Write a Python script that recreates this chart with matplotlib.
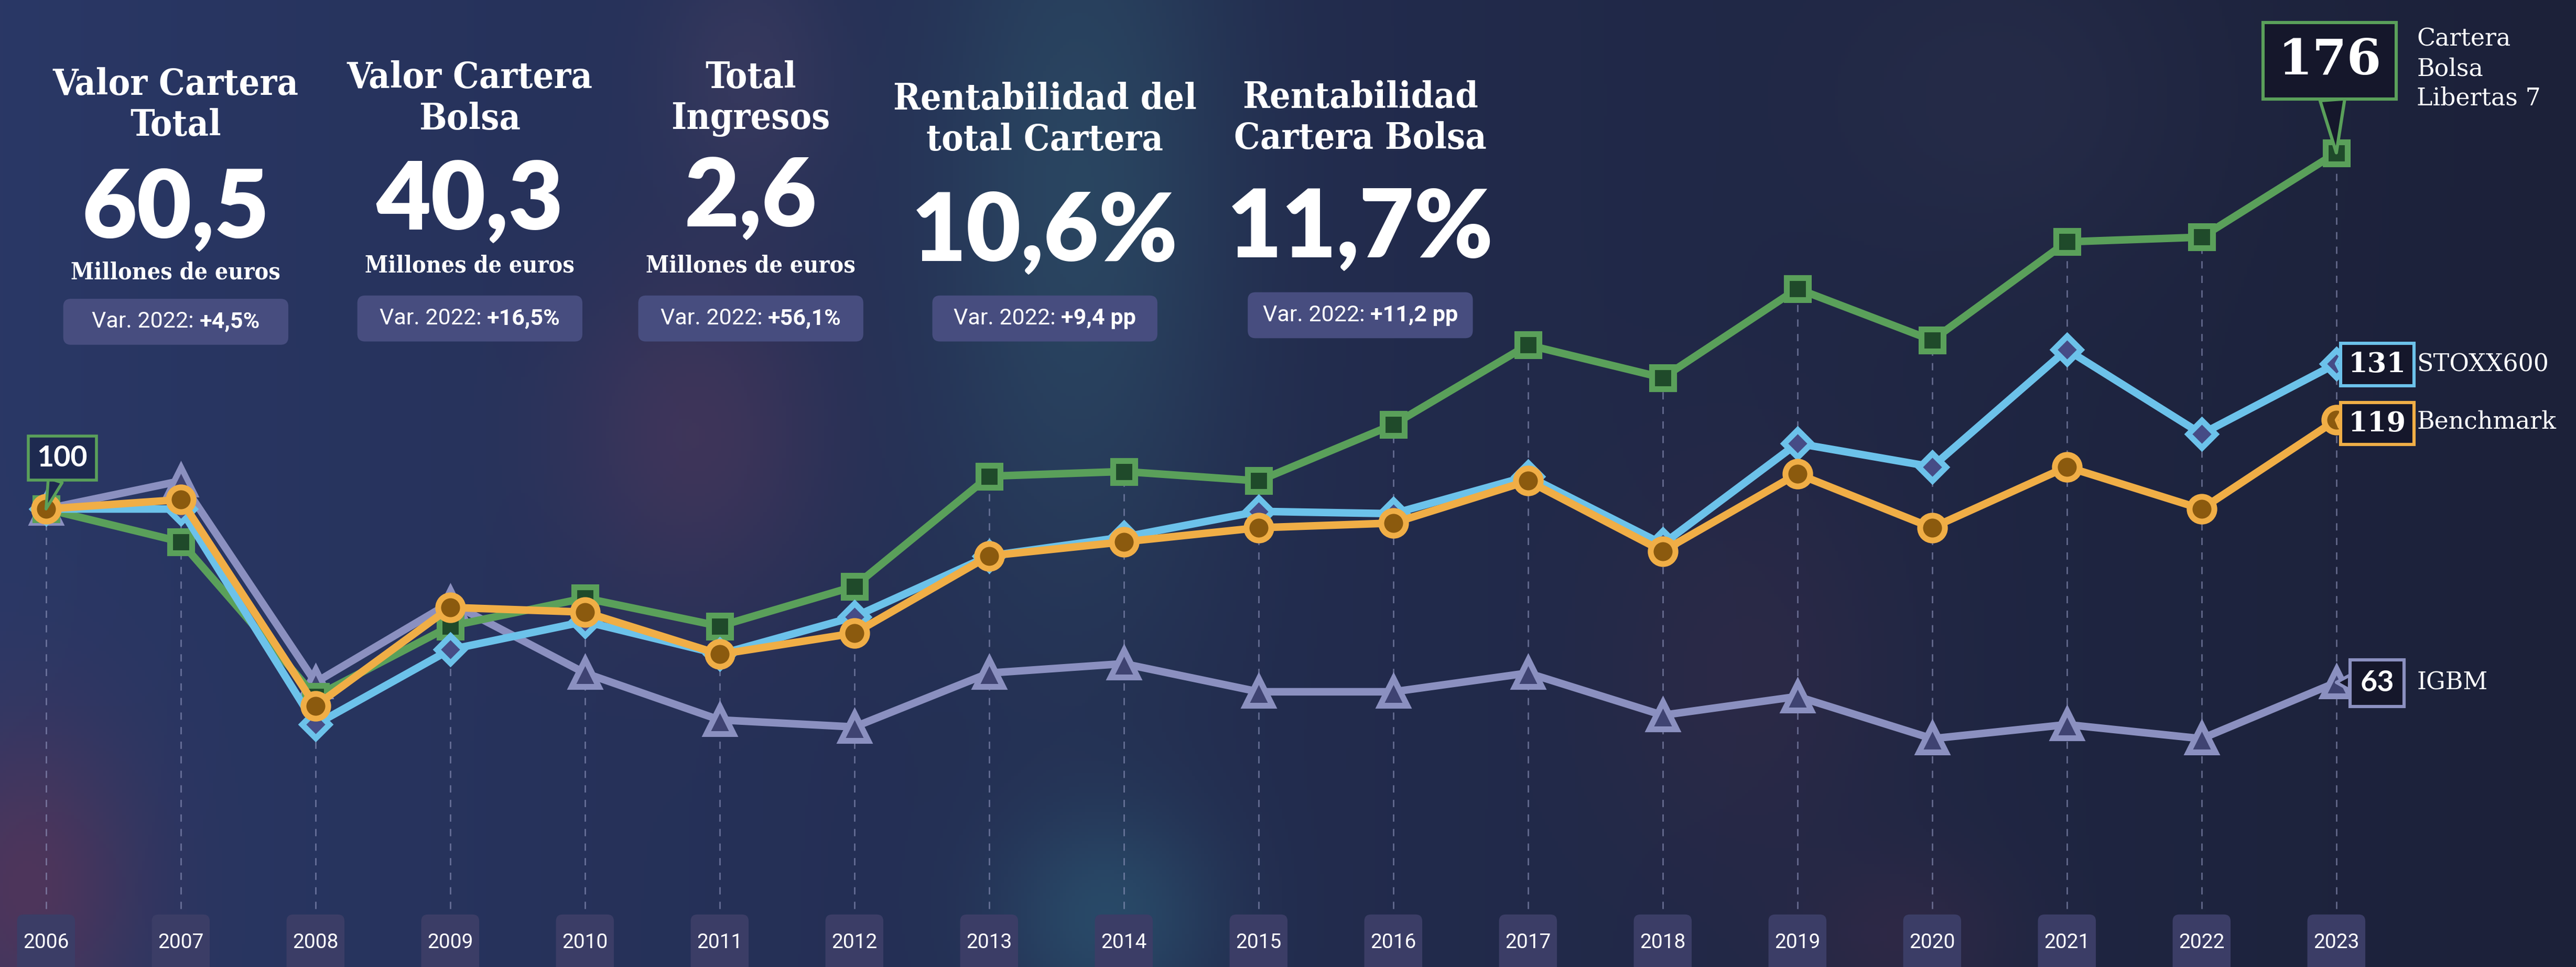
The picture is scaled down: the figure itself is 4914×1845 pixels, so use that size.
import numpy as np
import matplotlib.pyplot as plt
from matplotlib.patches import FancyBboxPatch
from matplotlib.colors import to_rgb
from matplotlib.transforms import blended_transform_factory

# datos (índice base 100 en 2006)
years = list(range(2006, 2024))
cartera = [100, 93, 60, 75, 81, 75, 83.5, 107, 108, 106, 118, 135, 128, 147, 136, 157, 158, 176]
stoxx = [100, 100, 54, 70, 76, 69, 77, 90, 94, 99.5, 99, 107, 92.5, 114, 109, 134, 116, 131]
benchmark = [100, 102, 58, 79, 78, 69, 73.5, 90, 93, 96, 97, 106, 91, 107.5, 96, 109, 100, 119]
igbm = [100, 106, 63, 80, 65, 55, 53.5, 65, 67, 61, 61, 65, 56, 60, 51, 54, 51, 63]

titles = ['Valor Cartera\nTotal', 'Valor Cartera\nBolsa', 'Total\nIngresos',
          'Rentabilidad del\ntotal Cartera', 'Rentabilidad\nCartera Bolsa']
values = ['60,5', '40,3', '2,6', '10,6%', '11,7%']
units = ['Millones de euros', 'Millones de euros', 'Millones de euros', '', '']
var_labels = ['+4,5%', '+16,5%', '+56,1%', '+9,4 pp', '+11,2 pp']

series_names = ['Cartera\nBolsa\nLibertas 7', 'STOXX600', 'Benchmark', 'IGBM']

# colores
GREEN, BLUE, ORANGE, PURPLE = '#5aa05a', '#6cc2ea', '#f0ae46', '#8b90c0'
DARKBOX = '#15172b'

# layout en px de referencia (1568x589)
W, H = 1568, 589
def fx(x):
    return x / W
def fy(y):
    return 1 - y / H

fig = plt.figure(figsize=(24.57, 9.225), dpi=200)

# fondo degradado con manchas difusas
bg = fig.add_axes([0, 0, 1, 1], zorder=-1)
gh, gw = 300, 800
xx, yy = np.meshgrid(np.linspace(0, 1, gw), np.linspace(0, 1, gh))
left, right = np.array(to_rgb('#2a3866')), np.array(to_rgb('#1c2139'))
t = (xx ** 0.9)[..., None]
img = left * (1 - t) + right * t
def blob(img, cx, cy, sx, sy, col, s):
    w = s * np.exp(-((xx - cx) ** 2 / (2 * sx ** 2) + (yy - cy) ** 2 / (2 * sy ** 2)))
    w = w[..., None]
    return img * (1 - w) + np.array(to_rgb(col)) * w
img = blob(img, 0.42, 0.2, 0.04, 0.3, '#305d70', 0.5)
img = blob(img, 0.43, 0.95, 0.03, 0.08, '#2f6a82', 0.45)
img = blob(img, 0.29, 0.08, 0.025, 0.1, '#4e4466', 0.4)
img = blob(img, 0.27, 0.45, 0.035, 0.12, '#5c3a5c', 0.45)
img = blob(img, 0.01, 0.92, 0.03, 0.12, '#5a3558', 0.75)
img = blob(img, 0.68, 0.7, 0.04, 0.15, '#3b2c48', 0.4)
img = blob(img, 0.74, 0.97, 0.03, 0.06, '#3b2b48', 0.5)
img = blob(img, 0.78, 0.1, 0.05, 0.12, '#2e3350', 0.4)
bg.imshow(img, aspect='auto', extent=(0, 1, 0, 1))
bg.axis('off')

ax = fig.add_axes([0, 0, 1, 1])
ax.patch.set_alpha(0)
ax.set_xlim(2006 - 87.8 / 257, 2006 + (4914 - 87.8) / 257)
ax.set_ylim(2.28, 208.6)
ax.axis('off')

# líneas verticales discontinuas
tops = [max(v) for v in zip(cartera, stoxx, benchmark, igbm)]
ax.vlines(years, 2.28, tops, colors='#9aa0c8', linestyles=(0, (5, 5)), linewidth=1.0, alpha=0.55, zorder=1)

specs = [
    (igbm, PURPLE, '^', '#3f4372', 19, 2),
    (cartera, GREEN, 's', '#1f4a2a', 15, 3),
    (stoxx, BLUE, 'D', '#464c86', 13, 4),
    (benchmark, ORANGE, 'o', '#8b5a0e', 17, 5),
]
for vals, c, m, fc, ms, z in specs:
    ax.plot(years, vals, color=c, lw=5.2, marker=m, ms=ms, mfc=fc, mec=c, mew=4, zorder=z)

# etiquetas de años
tr = blended_transform_factory(ax.transData, ax.transAxes)
for yr in years:
    ax.add_patch(FancyBboxPatch((yr - 0.215, -0.02), 0.43, 0.02 + fy(557),
                                boxstyle='round,pad=0,rounding_size=0.05', mutation_aspect=257 / 1845,
                                transform=tr, fc='#3b3d66', ec='none', zorder=6))
    ax.text(yr, fy(574), str(yr), transform=tr, ha='center', va='center', color='white',
            fontsize=14, family='Roboto', zorder=7)

# bloques de indicadores
col_x = [107, 286, 457, 636, 828]
title_y = [64, 60, 60, 73, 72]
value_y = [128, 123, 121, 142, 140]
unit_y = [166, 162, 162, 0, 0]
var_y = [196, 194, 194, 194, 192]

renderer = fig.canvas.get_renderer()
for i in range(5):
    cx = fx(col_x[i])
    ax.text(cx, fy(title_y[i]), titles[i], transform=ax.transAxes, ha='center', va='center',
            color='white', fontsize=25, fontweight='bold', family='DejaVu Serif',
            fontstretch='condensed', linespacing=1.22)
    ax.text(cx, fy(value_y[i]), values[i], transform=ax.transAxes, ha='center', va='center',
            color='white', fontsize=65, fontweight='heavy', family='Lato')
    if units[i]:
        ax.text(cx, fy(unit_y[i]), units[i], transform=ax.transAxes, ha='center', va='center',
                color='white', fontsize=16, fontweight='bold', family='DejaVu Serif',
                fontstretch='condensed')
    bw, bh = fx(137), 28 / H
    ax.add_patch(FancyBboxPatch((cx - bw / 2, fy(var_y[i]) - bh / 2), bw, bh,
                                boxstyle='round,pad=0,rounding_size=0.003', mutation_aspect=W / H,
                                transform=ax.transAxes, fc='#474d7f', ec='none', zorder=6))
    t1 = ax.text(0, fy(var_y[i]), 'Var. 2022: ', transform=ax.transAxes, ha='left', va='center',
                 color='white', fontsize=15.5, family='Roboto', zorder=7)
    t2 = ax.text(0, fy(var_y[i]), var_labels[i], transform=ax.transAxes, ha='left', va='center',
                 color='white', fontsize=15.5, fontweight='bold', family='Roboto', zorder=7)
    w1 = t1.get_window_extent(renderer).width / fig.bbox.width
    w2 = t2.get_window_extent(renderer).width / fig.bbox.width
    start = cx - (w1 + w2) / 2
    t1.set_x(start)
    t2.set_x(start + w1)

# callouts finales
def callout(text, val, yr, pos, ec, size, family, pad):
    ax.annotate(text, xy=(yr, val), xytext=(fx(pos[0]), fy(pos[1])), textcoords='axes fraction',
                ha='center', va='center', color='white', fontsize=size, fontweight='bold', family=family,
                bbox=dict(boxstyle='square,pad=%s' % pad, fc=DARKBOX, ec=ec, lw=2.2),
                arrowprops=dict(arrowstyle='wedge,tail_width=0.5', fc=DARKBOX, ec=ec, lw=2.2,
                                shrinkA=0, shrinkB=0),
                zorder=10)

callout(str(cartera[-1]), cartera[-1], years[-1], (1418, 37), GREEN, 34, 'DejaVu Serif', 0.3)
callout(str(stoxx[-1]), stoxx[-1], years[-1], (1447, 222), BLUE, 19, 'DejaVu Serif', 0.28)
callout(str(benchmark[-1]), benchmark[-1], years[-1], (1447, 258), ORANGE, 19, 'DejaVu Serif', 0.28)
callout(str(igbm[-1]), igbm[-1], years[-1], (1447, 416), PURPLE, 20, 'Lato', 0.35)
ax.annotate(str(cartera[0]), xy=(years[0], cartera[0]), xytext=(fx(38), fy(279)), textcoords='axes fraction',
            ha='center', va='center', color='white', fontsize=20, fontweight='bold', family='Lato',
            bbox=dict(boxstyle='square,pad=0.3', fc='#1e2a50', ec=GREEN, lw=2),
            arrowprops=dict(arrowstyle='wedge,tail_width=0.5', fc='#1e2a50', ec=GREEN, lw=2,
                            shrinkA=0, shrinkB=0),
            zorder=10)

name_y = [42, 222, 257, 416]
for name, y in zip(series_names, name_y):
    ax.text(fx(1471), fy(y), name, transform=ax.transAxes, ha='left', va='center', color='white',
            fontsize=16.5, family='DejaVu Serif', linespacing=1.32)

fig.savefig('out.png', dpi=200)
